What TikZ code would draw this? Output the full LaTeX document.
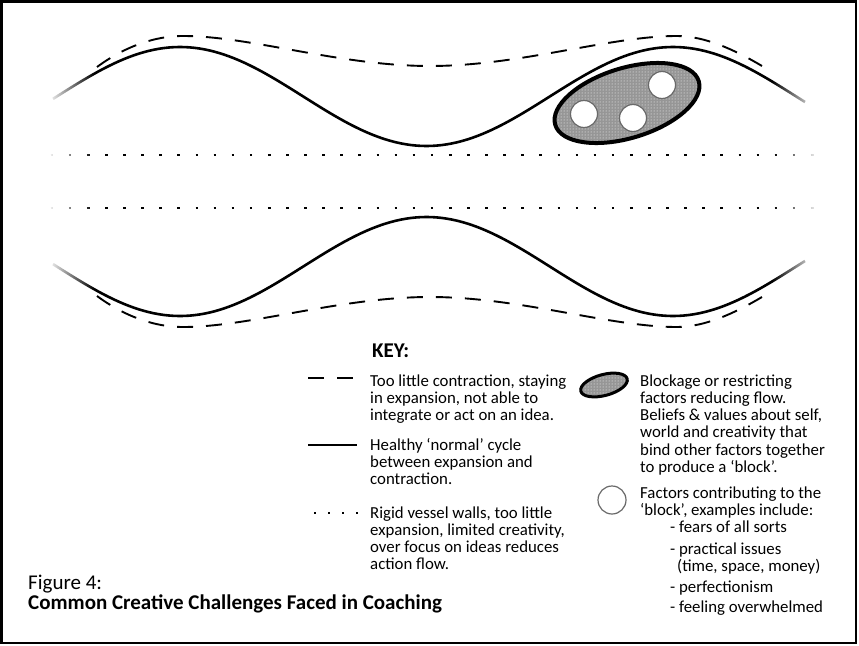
\documentclass[tikz,border=0pt]{standalone}
\usepackage{fontspec}
\setmainfont{Carlito}
\usetikzlibrary{patterns,fadings,positioning}
\definecolor{blockgrey}{RGB}{150,150,150}
\definecolor{factorline}{RGB}{105,105,105}
\tikzfading[name=fadeleft, left color=transparent!0, right color=transparent!100]
\tikzfading[name=faderight, left color=transparent!100, right color=transparent!0]
\tikzset{
  healthy/.style={line width=2.6pt},
  toowide/.style={line width=1.9pt, dash pattern=on 16pt off 13pt},
  rigid/.style={line width=2.6pt, dash pattern=on 2.6pt off 15.5pt},
  blockage/.style={draw, line width=4pt, preaction={fill=blockgrey}, preaction={pattern=dots, pattern color=white}},
  factor/.style={draw=factorline, line width=1.2pt, fill=white},
  keytext/.style={anchor=base west, align=left, inner sep=0pt, font=\fontsize{16.8}{17.3}\selectfont},
}
\begin{document}
\begin{tikzpicture}[x=1pt, y=-1pt]
  \useasboundingbox (0,0) rectangle (859,645);
  % vessel walls, upper and mirrored lower
  \foreach \m in {0,1}{
    \begin{scope}[shift={(0,{363*\m})}, yscale={1-2*\m}]
      \draw[healthy] plot[domain=53:805, samples=150] (\x,{96.5-49.5*cos((\x-180)/493*360)});
      \draw[toowide] (97,67) .. controls (120,50) and (150,36) .. (183,36)
        .. controls (250,36) and (340,66) .. (430,66)
        .. controls (520,66) and (610,36) .. (677,36)
        .. controls (705,36) and (735,50) .. (762,66);
    \end{scope}
  }
  \draw[rigid] (50.7,155) -- (815,155);
  \draw[rigid] (50.7,208) -- (815,208);
  % the block
  \path[blockage] (627,103) circle[x radius=75pt, y radius=35pt, rotate=17];
  \path[factor] (584,114) circle[radius=13.5pt];
  \path[factor] (633,118) circle[radius=13.5pt];
  \path[factor] (662,85) circle[radius=13.5pt];
  \fill[white, path fading=fadeleft] (47,30) rectangle (94,335);
  \fill[white, path fading=faderight] (772,30) rectangle (819,335);

  % key (base anchors sit on the last line)
  \node[anchor=base west, inner sep=0pt, font=\fontsize{21}{22}\selectfont\bfseries] (key) at (372,357) {KEY:};
  \draw[toowide] (308,378) -- (356,378);
  \node[keytext] (toowidetxt) at (370,420.6) {Too little contraction, staying\\in expansion, not able to\\integrate or act on an idea.};
  \draw[healthy] (308,445) -- (357,445);
  \node[keytext] (healthytxt) at (370,484.6) {Healthy ‘normal’ cycle\\between expansion and\\contraction.};
  \foreach \x in {315,329,343,357}
    \fill (\x-1.3,511.7) rectangle +(2.6,2.6);
  \node[keytext] (rigidtxt) at (370,569.9) {Rigid vessel walls, too little\\expansion, limited creativity,\\over focus on ideas reduces\\action flow.};
  \path[blockage, line width=3pt] (604,385) circle[x radius=24pt, y radius=10.5pt, rotate=15];
  \node[keytext] (blocktxt) at (640,472.5) {Blockage or restricting\\factors reducing flow.\\Beliefs \& values about self,\\world and creativity that\\bind other factors together\\to produce a ‘block’.};
  \path[factor] (612,500) circle[radius=14pt];
  \node[keytext] (factortxt) at (640,515.3) {Factors contributing to the\\‘block’, examples include:};
  \node[keytext] (factorlist) at (670,612.5) {- fears of all sorts\\[4.5pt]- practical issues\\\hspace*{7pt}(time, space, money)\\[3pt]- perfectionism\\[3pt]- feeling overwhelmed};

  \node[anchor=base west, inner sep=0pt, align=left, font=\fontsize{21}{19.5}\selectfont] (caption) at (28,609) {Figure 4:\\\textbf{Common Creative Challenges Faced in Coaching}};
  \draw[line width=2.5pt] (1.25,1.25) rectangle (856,642.75);
\end{tikzpicture}
\end{document}
